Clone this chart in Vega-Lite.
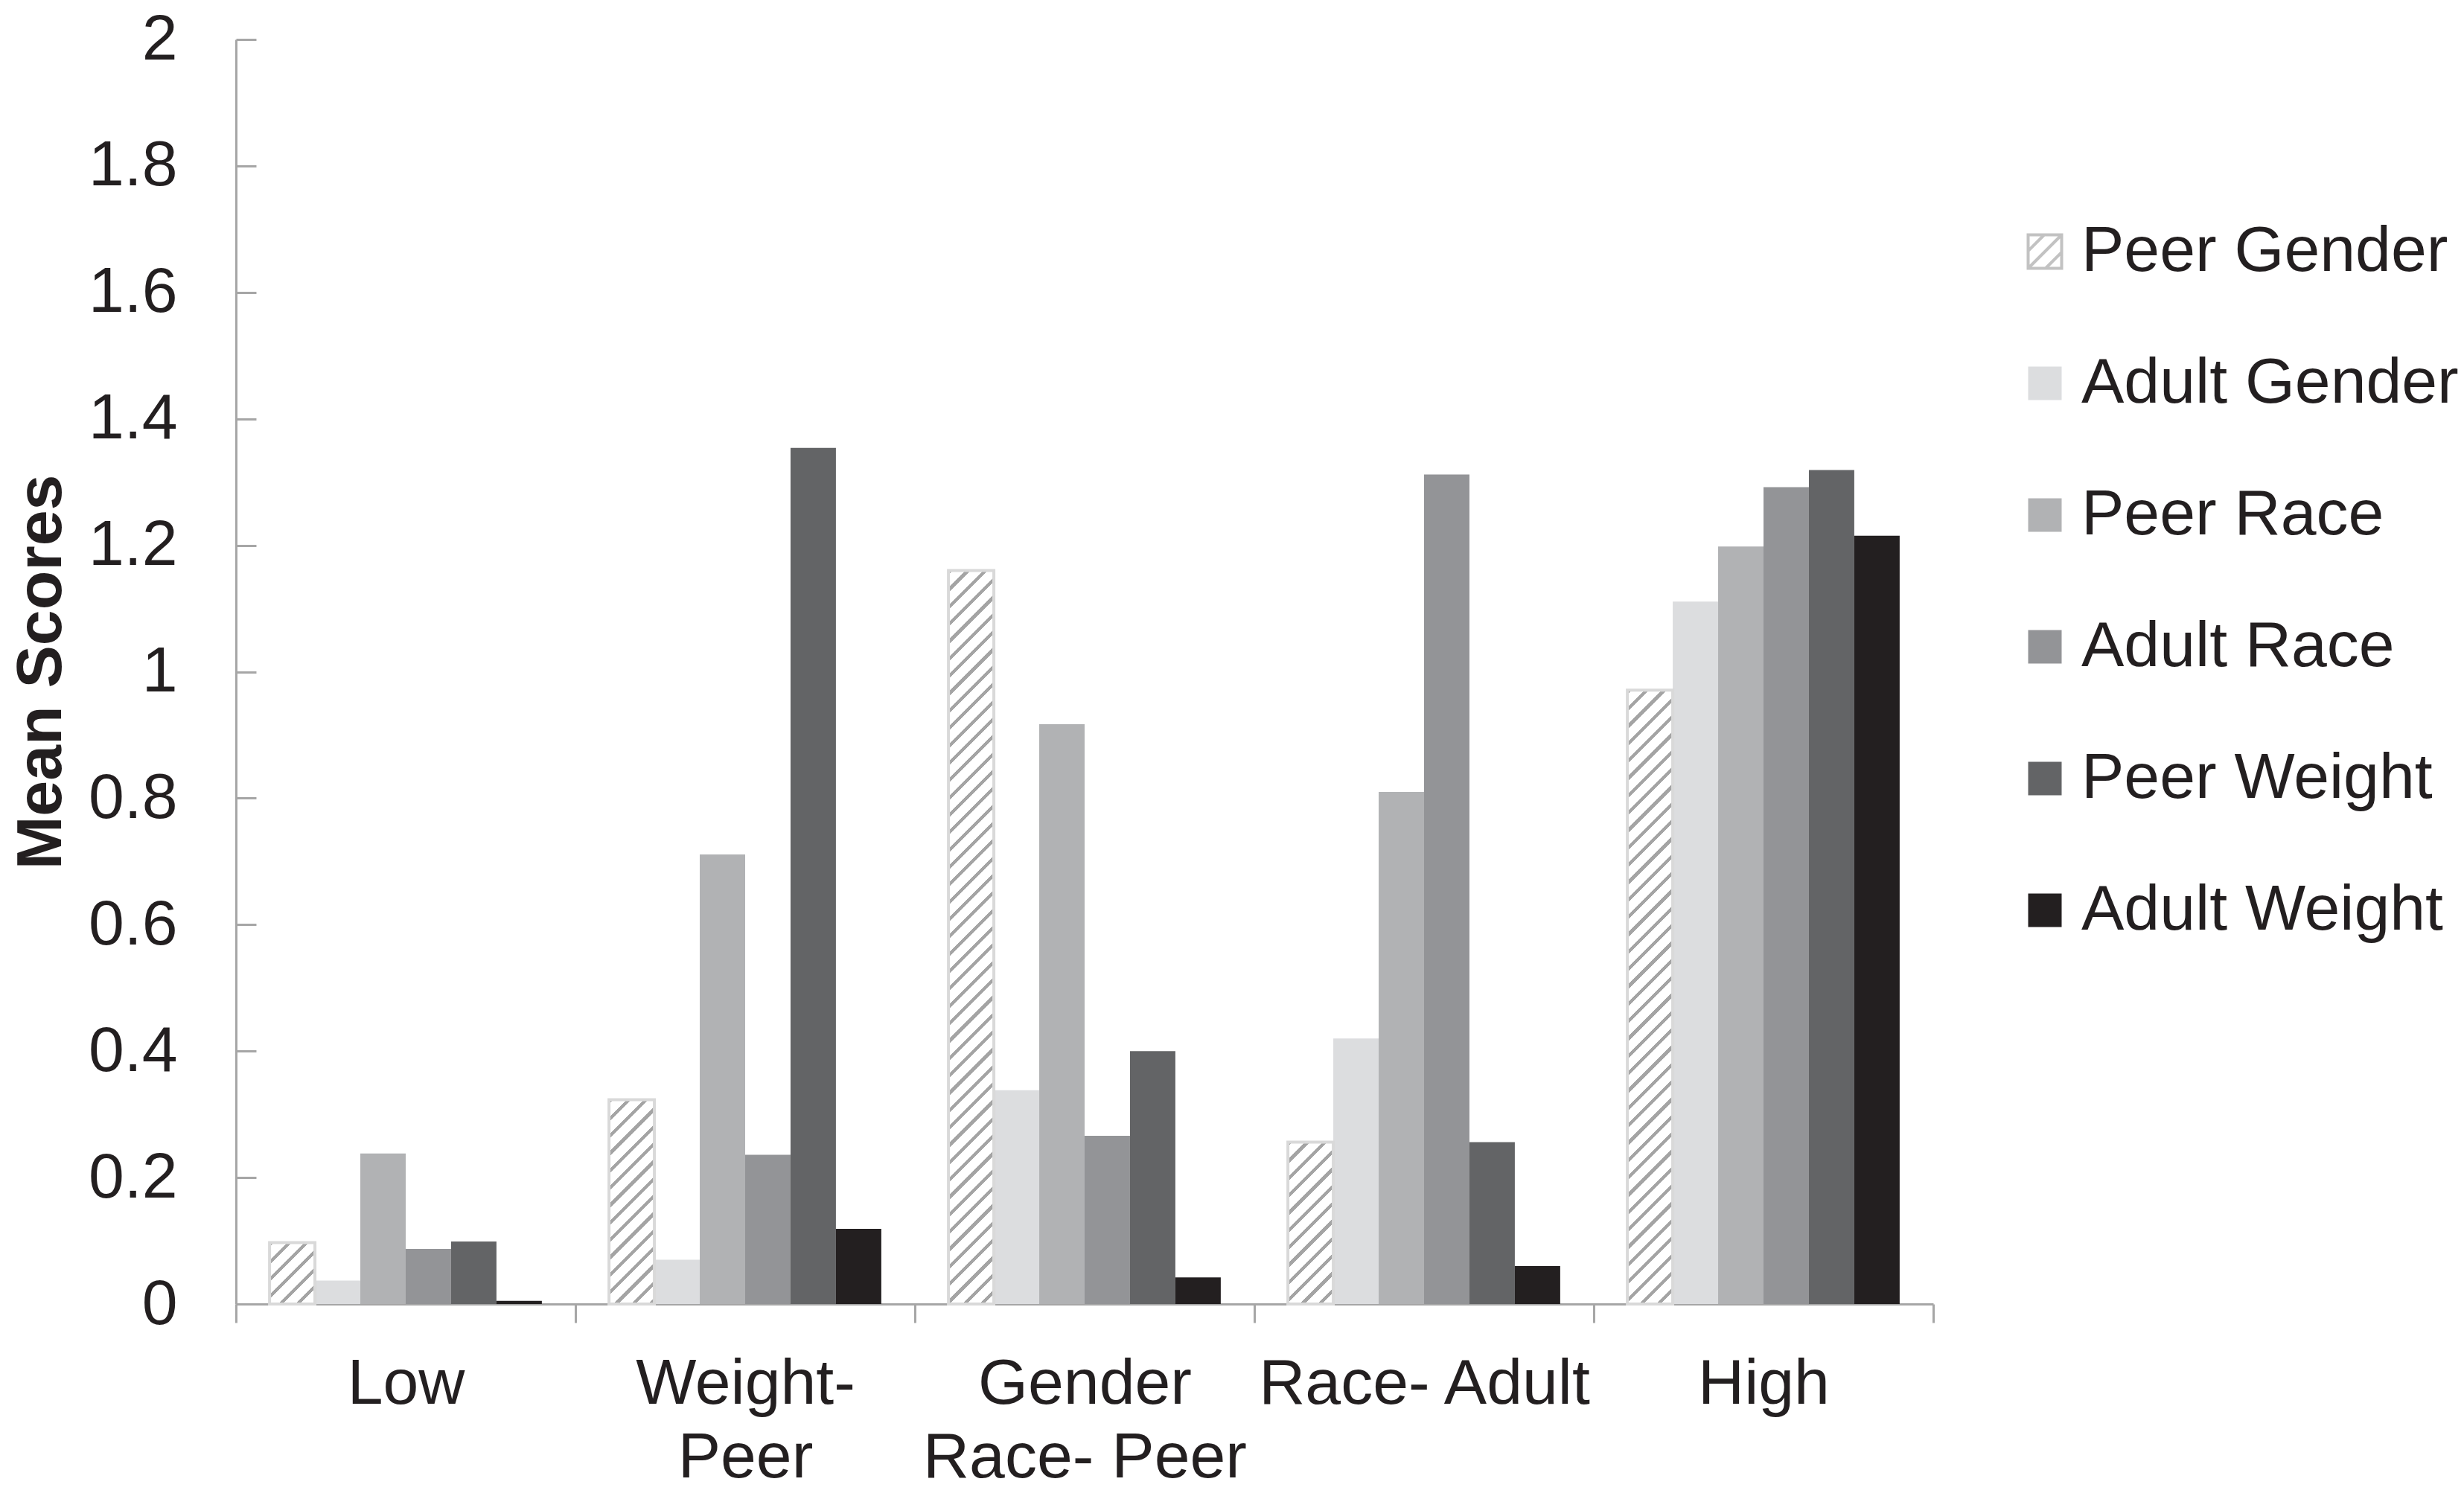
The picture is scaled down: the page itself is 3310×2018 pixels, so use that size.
{
  "$schema": "https://vega.github.io/schema/vega-lite/v6.json",
  "width": 2280,
  "height": 1699,
  "autosize": {"type": "none"},
  "padding": {"left": 317, "top": 53, "right": 713, "bottom": 266},
  "background": "white",
  "params": [
    {
      "name": "hatch",
      "value": [
        {"offset": 0, "color": "#a4a4a4"}, {"offset": 0.0056, "color": "#a4a4a4"}, {"offset": 0.0056, "color": "#fff"}, {"offset": 0.0208, "color": "#fff"},
        {"offset": 0.0208, "color": "#a4a4a4"}, {"offset": 0.0265, "color": "#a4a4a4"}, {"offset": 0.0265, "color": "#fff"}, {"offset": 0.0417, "color": "#fff"},
        {"offset": 0.0417, "color": "#a4a4a4"}, {"offset": 0.0473, "color": "#a4a4a4"}, {"offset": 0.0473, "color": "#fff"}, {"offset": 0.0625, "color": "#fff"},
        {"offset": 0.0625, "color": "#a4a4a4"}, {"offset": 0.0681, "color": "#a4a4a4"}, {"offset": 0.0681, "color": "#fff"}, {"offset": 0.0833, "color": "#fff"},
        {"offset": 0.0833, "color": "#a4a4a4"}, {"offset": 0.0890, "color": "#a4a4a4"}, {"offset": 0.0890, "color": "#fff"}, {"offset": 0.1042, "color": "#fff"},
        {"offset": 0.1042, "color": "#a4a4a4"}, {"offset": 0.1098, "color": "#a4a4a4"}, {"offset": 0.1098, "color": "#fff"}, {"offset": 0.125, "color": "#fff"},
        {"offset": 0.125, "color": "#a4a4a4"}, {"offset": 0.1306, "color": "#a4a4a4"}, {"offset": 0.1306, "color": "#fff"}, {"offset": 0.1458, "color": "#fff"},
        {"offset": 0.1458, "color": "#a4a4a4"}, {"offset": 0.1515, "color": "#a4a4a4"}, {"offset": 0.1515, "color": "#fff"}, {"offset": 0.1667, "color": "#fff"},
        {"offset": 0.1667, "color": "#a4a4a4"}, {"offset": 0.1723, "color": "#a4a4a4"}, {"offset": 0.1723, "color": "#fff"}, {"offset": 0.1875, "color": "#fff"},
        {"offset": 0.1875, "color": "#a4a4a4"}, {"offset": 0.1931, "color": "#a4a4a4"}, {"offset": 0.1931, "color": "#fff"}, {"offset": 0.2083, "color": "#fff"},
        {"offset": 0.2083, "color": "#a4a4a4"}, {"offset": 0.2140, "color": "#a4a4a4"}, {"offset": 0.2140, "color": "#fff"}, {"offset": 0.2292, "color": "#fff"},
        {"offset": 0.2292, "color": "#a4a4a4"}, {"offset": 0.2348, "color": "#a4a4a4"}, {"offset": 0.2348, "color": "#fff"}, {"offset": 0.25, "color": "#fff"},
        {"offset": 0.25, "color": "#a4a4a4"}, {"offset": 0.2556, "color": "#a4a4a4"}, {"offset": 0.2556, "color": "#fff"}, {"offset": 0.2708, "color": "#fff"},
        {"offset": 0.2708, "color": "#a4a4a4"}, {"offset": 0.2765, "color": "#a4a4a4"}, {"offset": 0.2765, "color": "#fff"}, {"offset": 0.2917, "color": "#fff"},
        {"offset": 0.2917, "color": "#a4a4a4"}, {"offset": 0.2973, "color": "#a4a4a4"}, {"offset": 0.2973, "color": "#fff"}, {"offset": 0.3125, "color": "#fff"},
        {"offset": 0.3125, "color": "#a4a4a4"}, {"offset": 0.3181, "color": "#a4a4a4"}, {"offset": 0.3181, "color": "#fff"}, {"offset": 0.3333, "color": "#fff"},
        {"offset": 0.3333, "color": "#a4a4a4"}, {"offset": 0.3390, "color": "#a4a4a4"}, {"offset": 0.3390, "color": "#fff"}, {"offset": 0.3542, "color": "#fff"},
        {"offset": 0.3542, "color": "#a4a4a4"}, {"offset": 0.3598, "color": "#a4a4a4"}, {"offset": 0.3598, "color": "#fff"}, {"offset": 0.375, "color": "#fff"},
        {"offset": 0.375, "color": "#a4a4a4"}, {"offset": 0.3806, "color": "#a4a4a4"}, {"offset": 0.3806, "color": "#fff"}, {"offset": 0.3958, "color": "#fff"},
        {"offset": 0.3958, "color": "#a4a4a4"}, {"offset": 0.4015, "color": "#a4a4a4"}, {"offset": 0.4015, "color": "#fff"}, {"offset": 0.4167, "color": "#fff"},
        {"offset": 0.4167, "color": "#a4a4a4"}, {"offset": 0.4223, "color": "#a4a4a4"}, {"offset": 0.4223, "color": "#fff"}, {"offset": 0.4375, "color": "#fff"},
        {"offset": 0.4375, "color": "#a4a4a4"}, {"offset": 0.4431, "color": "#a4a4a4"}, {"offset": 0.4431, "color": "#fff"}, {"offset": 0.4583, "color": "#fff"},
        {"offset": 0.4583, "color": "#a4a4a4"}, {"offset": 0.4640, "color": "#a4a4a4"}, {"offset": 0.4640, "color": "#fff"}, {"offset": 0.4792, "color": "#fff"},
        {"offset": 0.4792, "color": "#a4a4a4"}, {"offset": 0.4848, "color": "#a4a4a4"}, {"offset": 0.4848, "color": "#fff"}, {"offset": 0.5, "color": "#fff"},
        {"offset": 0.5, "color": "#a4a4a4"}, {"offset": 0.5056, "color": "#a4a4a4"}, {"offset": 0.5056, "color": "#fff"}, {"offset": 0.5208, "color": "#fff"},
        {"offset": 0.5208, "color": "#a4a4a4"}, {"offset": 0.5265, "color": "#a4a4a4"}, {"offset": 0.5265, "color": "#fff"}, {"offset": 0.5417, "color": "#fff"},
        {"offset": 0.5417, "color": "#a4a4a4"}, {"offset": 0.5473, "color": "#a4a4a4"}, {"offset": 0.5473, "color": "#fff"}, {"offset": 0.5625, "color": "#fff"},
        {"offset": 0.5625, "color": "#a4a4a4"}, {"offset": 0.5681, "color": "#a4a4a4"}, {"offset": 0.5681, "color": "#fff"}, {"offset": 0.5833, "color": "#fff"},
        {"offset": 0.5833, "color": "#a4a4a4"}, {"offset": 0.5890, "color": "#a4a4a4"}, {"offset": 0.5890, "color": "#fff"}, {"offset": 0.6042, "color": "#fff"},
        {"offset": 0.6042, "color": "#a4a4a4"}, {"offset": 0.6098, "color": "#a4a4a4"}, {"offset": 0.6098, "color": "#fff"}, {"offset": 0.625, "color": "#fff"},
        {"offset": 0.625, "color": "#a4a4a4"}, {"offset": 0.6306, "color": "#a4a4a4"}, {"offset": 0.6306, "color": "#fff"}, {"offset": 0.6458, "color": "#fff"},
        {"offset": 0.6458, "color": "#a4a4a4"}, {"offset": 0.6515, "color": "#a4a4a4"}, {"offset": 0.6515, "color": "#fff"}, {"offset": 0.6667, "color": "#fff"},
        {"offset": 0.6667, "color": "#a4a4a4"}, {"offset": 0.6723, "color": "#a4a4a4"}, {"offset": 0.6723, "color": "#fff"}, {"offset": 0.6875, "color": "#fff"},
        {"offset": 0.6875, "color": "#a4a4a4"}, {"offset": 0.6931, "color": "#a4a4a4"}, {"offset": 0.6931, "color": "#fff"}, {"offset": 0.7083, "color": "#fff"},
        {"offset": 0.7083, "color": "#a4a4a4"}, {"offset": 0.7140, "color": "#a4a4a4"}, {"offset": 0.7140, "color": "#fff"}, {"offset": 0.7292, "color": "#fff"},
        {"offset": 0.7292, "color": "#a4a4a4"}, {"offset": 0.7348, "color": "#a4a4a4"}, {"offset": 0.7348, "color": "#fff"}, {"offset": 0.75, "color": "#fff"},
        {"offset": 0.75, "color": "#a4a4a4"}, {"offset": 0.7556, "color": "#a4a4a4"}, {"offset": 0.7556, "color": "#fff"}, {"offset": 0.7708, "color": "#fff"},
        {"offset": 0.7708, "color": "#a4a4a4"}, {"offset": 0.7765, "color": "#a4a4a4"}, {"offset": 0.7765, "color": "#fff"}, {"offset": 0.7917, "color": "#fff"},
        {"offset": 0.7917, "color": "#a4a4a4"}, {"offset": 0.7973, "color": "#a4a4a4"}, {"offset": 0.7973, "color": "#fff"}, {"offset": 0.8125, "color": "#fff"},
        {"offset": 0.8125, "color": "#a4a4a4"}, {"offset": 0.8181, "color": "#a4a4a4"}, {"offset": 0.8181, "color": "#fff"}, {"offset": 0.8333, "color": "#fff"},
        {"offset": 0.8333, "color": "#a4a4a4"}, {"offset": 0.8390, "color": "#a4a4a4"}, {"offset": 0.8390, "color": "#fff"}, {"offset": 0.8542, "color": "#fff"},
        {"offset": 0.8542, "color": "#a4a4a4"}, {"offset": 0.8598, "color": "#a4a4a4"}, {"offset": 0.8598, "color": "#fff"}, {"offset": 0.875, "color": "#fff"},
        {"offset": 0.875, "color": "#a4a4a4"}, {"offset": 0.8806, "color": "#a4a4a4"}, {"offset": 0.8806, "color": "#fff"}, {"offset": 0.8958, "color": "#fff"},
        {"offset": 0.8958, "color": "#a4a4a4"}, {"offset": 0.9015, "color": "#a4a4a4"}, {"offset": 0.9015, "color": "#fff"}, {"offset": 0.9167, "color": "#fff"},
        {"offset": 0.9167, "color": "#a4a4a4"}, {"offset": 0.9223, "color": "#a4a4a4"}, {"offset": 0.9223, "color": "#fff"}, {"offset": 0.9375, "color": "#fff"},
        {"offset": 0.9375, "color": "#a4a4a4"}, {"offset": 0.9431, "color": "#a4a4a4"}, {"offset": 0.9431, "color": "#fff"}, {"offset": 0.9583, "color": "#fff"},
        {"offset": 0.9583, "color": "#a4a4a4"}, {"offset": 0.9640, "color": "#a4a4a4"}, {"offset": 0.9640, "color": "#fff"}, {"offset": 0.9792, "color": "#fff"},
        {"offset": 0.9792, "color": "#a4a4a4"}, {"offset": 0.9848, "color": "#a4a4a4"}, {"offset": 0.9848, "color": "#fff"}, {"offset": 1, "color": "#fff"}
      ]
    }
  ],
  "data": {
    "values": [
      {"Group": "Low", "Series": "Peer Gender", "Score": 0.097},
      {"Group": "Low", "Series": "Adult Gender", "Score": 0.037},
      {"Group": "Low", "Series": "Peer Race", "Score": 0.238},
      {"Group": "Low", "Series": "Adult Race", "Score": 0.087},
      {"Group": "Low", "Series": "Peer Weight", "Score": 0.099},
      {"Group": "Low", "Series": "Adult Weight", "Score": 0.005},
      {"Group": "Weight- Peer", "Series": "Peer Gender", "Score": 0.323},
      {"Group": "Weight- Peer", "Series": "Adult Gender", "Score": 0.07},
      {"Group": "Weight- Peer", "Series": "Peer Race", "Score": 0.711},
      {"Group": "Weight- Peer", "Series": "Adult Race", "Score": 0.236},
      {"Group": "Weight- Peer", "Series": "Peer Weight", "Score": 1.354},
      {"Group": "Weight- Peer", "Series": "Adult Weight", "Score": 0.119},
      {"Group": "Gender Race- Peer", "Series": "Peer Gender", "Score": 1.16},
      {"Group": "Gender Race- Peer", "Series": "Adult Gender", "Score": 0.338},
      {"Group": "Gender Race- Peer", "Series": "Peer Race", "Score": 0.917},
      {"Group": "Gender Race- Peer", "Series": "Adult Race", "Score": 0.266},
      {"Group": "Gender Race- Peer", "Series": "Peer Weight", "Score": 0.4},
      {"Group": "Gender Race- Peer", "Series": "Adult Weight", "Score": 0.042},
      {"Group": "Race- Adult", "Series": "Peer Gender", "Score": 0.256},
      {"Group": "Race- Adult", "Series": "Adult Gender", "Score": 0.42},
      {"Group": "Race- Adult", "Series": "Peer Race", "Score": 0.81},
      {"Group": "Race- Adult", "Series": "Adult Race", "Score": 1.312},
      {"Group": "Race- Adult", "Series": "Peer Weight", "Score": 0.256},
      {"Group": "Race- Adult", "Series": "Adult Weight", "Score": 0.06},
      {"Group": "High", "Series": "Peer Gender", "Score": 0.971},
      {"Group": "High", "Series": "Adult Gender", "Score": 1.111},
      {"Group": "High", "Series": "Peer Race", "Score": 1.198},
      {"Group": "High", "Series": "Adult Race", "Score": 1.292},
      {"Group": "High", "Series": "Peer Weight", "Score": 1.319},
      {"Group": "High", "Series": "Adult Weight", "Score": 1.215}
    ]
  },
  "encoding": {
    "x": {
      "field": "Group",
      "type": "nominal",
      "sort": ["Low", "Weight- Peer", "Gender Race- Peer", "Race- Adult", "High"],
      "scale": {"paddingInner": 0, "paddingOuter": 0},
      "axis": {
        "title": null,
        "labelAngle": 0,
        "tickBand": "extent",
        "tickSize": 25,
        "tickWidth": 3,
        "tickColor": "#a6a6a6",
        "domainColor": "#a6a6a6",
        "domainWidth": 3,
        "labelFont": "Liberation Sans",
        "labelFontSize": 86,
        "labelColor": "#231f20",
        "labelPadding": 40,
        "labelLineHeight": 99,
        "labelLimit": 0,
        "grid": false,
        "labelExpr": "datum.value === 'Weight- Peer' ? ['Weight-', 'Peer'] : datum.value === 'Gender Race- Peer' ? ['Gender', 'Race- Peer'] : datum.value"
      }
    },
    "xOffset": {
      "field": "Series",
      "type": "nominal",
      "scale": {
        "domain": ["Peer Gender", "Adult Gender", "Peer Race", "Adult Race", "Peer Weight", "Adult Weight"],
        "paddingInner": 0,
        "paddingOuter": 0.74
      }
    },
    "y": {
      "field": "Score",
      "type": "quantitative",
      "scale": {"domain": [0, 2], "nice": false},
      "axis": {
        "title": "Mean Scores",
        "titleFont": "Liberation Sans",
        "titleFontSize": 86,
        "titleFontWeight": "bold",
        "titleColor": "#231f20",
        "titleX": -262,
        "titleBaseline": "middle",
        "values": [0, 0.2, 0.4, 0.6, 0.8, 1, 1.2, 1.4, 1.6, 1.8, 2],
        "format": "~g",
        "labelFont": "Liberation Sans",
        "labelFontSize": 86,
        "labelColor": "#231f20",
        "labelPadding": 106,
        "tickSize": -27,
        "tickWidth": 3,
        "tickColor": "#a6a6a6",
        "domainColor": "#a6a6a6",
        "domainWidth": 3,
        "grid": false
      }
    }
  },
  "layer": [
    {
      "mark": {"type": "bar"},
      "encoding": {
        "color": {
          "field": "Series",
          "type": "nominal",
          "scale": {
            "domain": ["Peer Gender", "Adult Gender", "Peer Race", "Adult Race", "Peer Weight", "Adult Weight"],
            "range": ["#ffffff", "#dcdddf", "#b1b2b4", "#939497", "#636466", "#231f20"]
          },
          "legend": {
            "title": null,
            "orient": "none",
            "legendX": 2387,
            "legendY": 242,
            "padding": 0,
            "labelFont": "Liberation Sans",
            "labelFontSize": 86,
            "labelColor": "#231f20",
            "labelLimit": 0,
            "labelOffset": 6,
            "rowPadding": 91,
            "symbolType": "square",
            "symbolSize": 2025,
            "encode": {
              "symbols": {
                "update": {
                  "shape": {"signal": "datum.value === 'Peer Gender' ? 'M-1,-1H1V1H-1Z M-1,-0.04L-0.04,-1 M-1,1L1,-1 M0.04,1L1,0.04' : 'square'"},
                  "stroke": {"signal": "datum.value === 'Peer Gender' ? '#c2c2c2' : 'transparent'"},
                  "strokeWidth": {"value": 4}
                }
              }
            }
          }
        }
      }
    },
    {
      "transform": [{"filter": "datum.Series === 'Peer Gender'"}],
      "mark": {
        "type": "bar",
        "stroke": "#d9d9d9",
        "strokeWidth": 4,
        "fill": {"expr": "{gradient: 'linear', x1: 0, y1: 0, x2: 792 * bandwidth('xOffset') / (0.7071 * (pow(bandwidth('xOffset'), 2) + pow(scale('y', 0) - scale('y', datum.Score), 2))), y2: 792 * (scale('y', 0) - scale('y', datum.Score)) / (0.7071 * (pow(bandwidth('xOffset'), 2) + pow(scale('y', 0) - scale('y', datum.Score), 2))), stops: hatch}"}
      }
    }
  ],
  "config": {
    "view": {"stroke": null}
  }
}
